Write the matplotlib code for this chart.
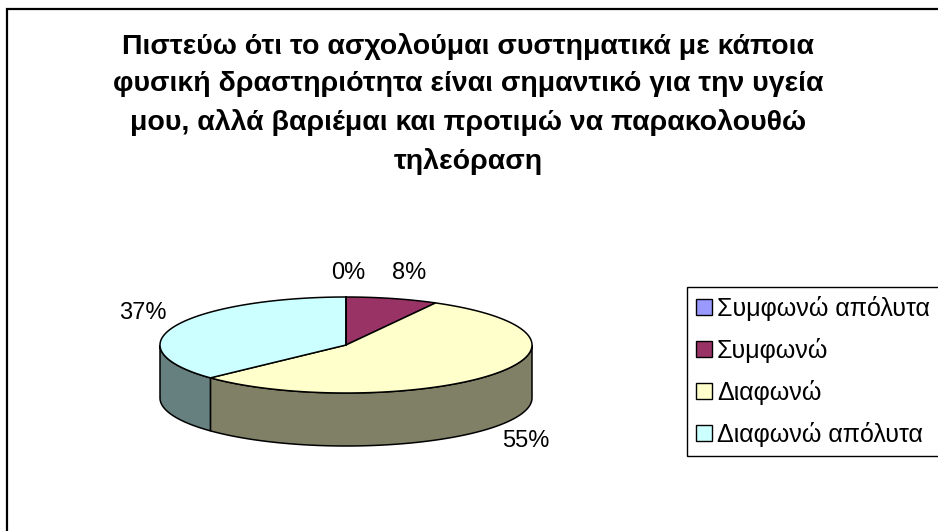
import numpy as np
import matplotlib
matplotlib.use('Agg')
import matplotlib.pyplot as plt
from matplotlib.patches import Polygon, Patch, Rectangle

plt.rcParams['font.family'] = ['Liberation Sans', 'DejaVu Sans']

# ---- données ----
categories = ['Συμφωνώ απόλυτα', 'Συμφωνώ', 'Διαφωνώ', 'Διαφωνώ απόλυτα']
values = [0, 8, 55, 37]
labels = ['0%', '8%', '55%', '37%']
top_colors = ['#9999FF', '#993366', '#FFFFCC', '#CCFFFF']
title = ('Πιστεύω ότι το ασχολούμαι συστηματικά με κάποια\n'
         'φυσική δραστηριότητα είναι σημαντικό για την υγεία\n'
         'μου, αλλά βαριέμαι και προτιμώ να παρακολουθώ\n'
         'τηλεόραση')

# ---- géométrie du camembert 3D (en pixels, puis ramené au rayon) ----
W, H = 938, 531
cx, cy, a_px = 346, 345, 186
k = 48 / 186          # écrasement de l'ellipse
depth = 53 / 186      # épaisseur
label_pos = [(348, 273), (409, 273), (526, 441), (143, 313)]

fig = plt.figure(figsize=(W / 100, H / 100), dpi=100)

# cadre de la zone graphique
fig.patches.append(Rectangle((7 / W, -0.2), 1.2, 1.2 - 9 / H,
                             transform=fig.transFigure, fill=False,
                             edgecolor='black', linewidth=1.6))

x0, x1, y0, y1 = 140, 560, 260, 470
ax = fig.add_axes([x0 / W, 1 - y1 / H, (x1 - x0) / W, (y1 - y0) / H])
ax.set_xlim((x0 - cx) / a_px, (x1 - cx) / a_px)
ax.set_ylim((cy - y1) / a_px, (cy - y0) / a_px)
ax.axis('off')


def darker(c):
    r, g, b = matplotlib.colors.to_rgb(c)
    return (r * 0.5, g * 0.5, b * 0.5)


total = sum(values)
bounds = 90 - 360 * np.concatenate([[0], np.cumsum(values)]) / total

# parois latérales (moitié avant seulement, angles entre -180 et 0)
for i in range(len(values)):
    s, e = max(bounds[i + 1], -180), min(bounds[i], 0)
    if e - s <= 0:
        continue
    th = np.radians(np.linspace(s, e, 100))
    top = np.column_stack([np.cos(th), k * np.sin(th)])
    bot = top[::-1] - [0, depth]
    ax.add_patch(Polygon(np.vstack([top, bot]), closed=True,
                         facecolor=darker(top_colors[i]), edgecolor='black',
                         linewidth=1.1))

# faces supérieures
for i in range(len(values)):
    if values[i] == 0:
        continue
    th = np.radians(np.linspace(bounds[i], bounds[i + 1], 200))
    pts = np.column_stack([np.cos(th), k * np.sin(th)])
    ax.add_patch(Polygon(np.vstack([[0, 0], pts]), closed=True,
                         facecolor=top_colors[i], edgecolor='black',
                         linewidth=1.1))
# trait de la part à 0 %
ax.plot([0, 0], [0, k], color='black', linewidth=1.1)

for lab, (px, py) in zip(labels, label_pos):
    fig.text(px / W, 1 - py / H, lab, ha='center', va='center', fontsize=17)

fig.text(468 / W, 1 - 104 / H, title, ha='center', va='center',
         fontsize=20.5, fontweight='bold', linespacing=1.58)

handles = [Patch(facecolor=c, edgecolor='black', linewidth=1) for c in top_colors]
leg = fig.legend(handles, categories, loc='upper left',
                 bbox_to_anchor=(687 / W, 1 - 287 / H), fontsize=18,
                 frameon=True, fancybox=False, edgecolor='black',
                 framealpha=1, handlelength=0.65, handleheight=0.6,
                 handletextpad=0.2, labelspacing=0.68, borderpad=0.35,
                 borderaxespad=0)
leg.get_frame().set_linewidth(1)

fig.savefig('out.png', dpi=100)
